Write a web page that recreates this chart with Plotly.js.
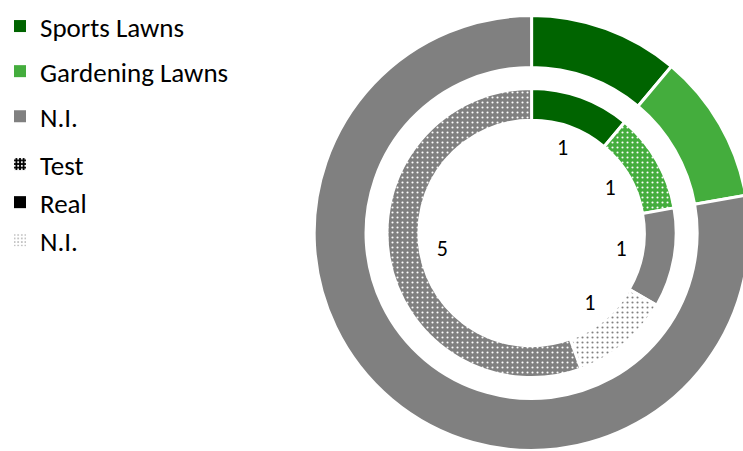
<!DOCTYPE html>
<html><head><meta charset="utf-8">
<script src="https://cdn.plot.ly/plotly-3.0.1.min.js"></script>
<style>html,body{margin:0;padding:0;overflow:hidden;background:#fff}</style>
</head><body><div id="chart"></div>
<script>
// ---- data ----
const outerLabels = ['Sports Lawns', 'Gardening Lawns', 'N.I.'];
const outerValues = [1, 1, 7];
const innerLabels = ['Sports Lawns · Real', 'Gardening Lawns · Test', 'N.I. · Real', 'N.I. · N.I.', 'N.I. · Test'];
const innerValues = [1, 1, 1, 1, 5];
const typeLabels = ['Test', 'Real', 'N.I.'];

// ---- styles ----
const DG = '#006400', LG = '#44AD3D', GR = '#808080', WH = '#ffffff';
const outerColors = [DG, LG, GR];
const innerBg = [DG, LG, GR, WH, GR];
const innerFg = [DG, WH, GR, GR, WH];
const typeBg = ['#000000', '#000000', WH];
const typeFg = [WH, '#000000', '#666666'];
const typeSize = [4.5, 4, 4.5];
const typeSolid = [0.25, 0.2, 0.1];
const FONT = 'Carlito, Calibri, Lato, sans-serif';

const W = 750, H = 451;
const CX = 531, CY = 233;
function dom(r) {
  return { x: [(CX - r) / W, (CX + r) / W], y: [1 - (CY + r) / H, 1 - (CY - r) / H] };
}

const traces = [];
traces.push({
  type: 'pie', labels: outerLabels, values: outerValues, sort: false,
  direction: 'clockwise', rotation: 0, hole: 166 / 218, domain: dom(218),
  marker: { colors: outerColors, line: { color: WH, width: 3 } },
  textinfo: 'none', showlegend: false, hoverinfo: 'skip'
});
traces.push({
  type: 'pie', labels: innerLabels, values: innerValues, sort: false,
  direction: 'clockwise', rotation: 0, hole: 113 / 145, domain: dom(145),
  marker: {
    colors: innerBg, line: { color: WH, width: 3 },
    pattern: { shape: innerValues.map(() => '.'), bgcolor: innerBg, fgcolor: innerFg, size: 5, solidity: 0.14, fillmode: 'replace' }
  },
  textinfo: 'none', showlegend: false, hoverinfo: 'skip'
});
traces.push({
  type: 'pie', labels: innerLabels.map(l => l + ' '), values: innerValues, sort: false,
  direction: 'clockwise', rotation: 0, hole: 70 / 112, domain: dom(112),
  marker: { colors: innerValues.map(() => 'rgba(0,0,0,0)'), line: { width: 0 } },
  textinfo: 'value', textposition: 'inside', insidetextorientation: 'horizontal',
  textfont: { family: FONT, size: 22, color: '#000' },
  showlegend: false, hoverinfo: 'skip'
});

outerLabels.forEach((name, i) => {
  traces.push({
    type: 'bar', x: [name], y: [0], name: name, legend: 'legend', legendgroup: 'o' + i,
    marker: { color: outerColors[i], line: { width: 0 } }, hoverinfo: 'skip', showlegend: true
  });
});
typeLabels.forEach((name, i) => {
  traces.push({
    type: 'bar', x: [name], y: [0], name: name, legend: 'legend2', legendgroup: 't' + i,
    marker: { color: typeBg[i], line: { width: 0 },
      pattern: { shape: '.', bgcolor: typeBg[i], fgcolor: typeFg[i], size: typeSize[i], solidity: typeSolid[i], fillmode: 'replace' } },
    hoverinfo: 'skip', showlegend: true
  });
});

const legendBase = {
  xanchor: 'left', yanchor: 'top', bgcolor: 'rgba(0,0,0,0)', borderwidth: 0,
  font: { family: FONT, size: 27, color: '#000' }, traceorder: 'grouped', itemclick: false, itemdoubleclick: false
};

const layout = {
  width: W, height: H, margin: { l: 0, r: 0, t: 0, b: 0 },
  paper_bgcolor: '#fff', plot_bgcolor: '#fff', hovermode: false,
  xaxis: { visible: false, domain: [0, 0.01] }, yaxis: { visible: false, domain: [0, 0.01] },
  legend: Object.assign({}, legendBase, { x: -2 / W, y: 1 - 2 / H, tracegroupgap: 7 }),
  legend2: Object.assign({}, legendBase, { x: -2 / W, y: 1 - 140 / H, tracegroupgap: 0 })
};

Plotly.newPlot('chart', traces, layout, { displayModeBar: false, staticPlot: true });
</script>
</body></html>
